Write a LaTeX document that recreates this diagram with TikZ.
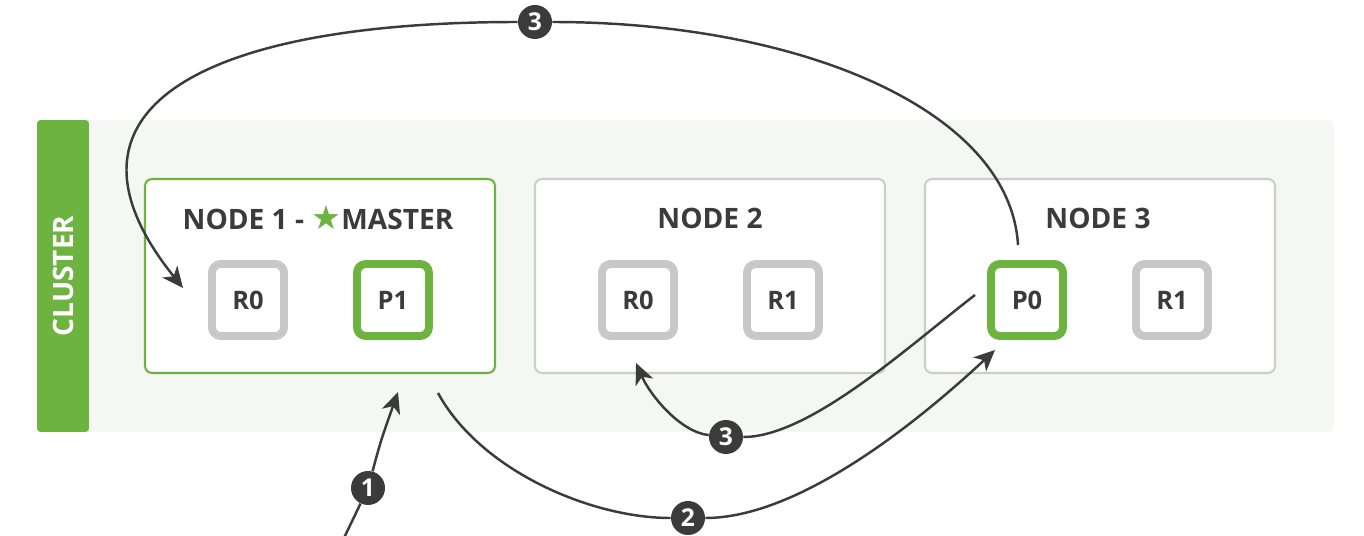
\documentclass[tikz,border=0pt]{standalone}
\usepackage{fontspec}
\setmainfont{Open Sans}
\newfontfamily\starfont{DejaVu Sans}
\usepackage{tikz}
\usetikzlibrary{arrows.meta,positioning}
\definecolor{elgreen}{HTML}{6DB33F}
\definecolor{shardgray}{HTML}{C8C8C8}
\definecolor{boxgray}{HTML}{CDCDCD}
\definecolor{inkgray}{HTML}{3B3B3B}
\definecolor{clusterbg}{HTML}{F5F7F2}

\tikzset{
  server/.style={draw=boxgray, line width=1.2pt, fill=white, rounded corners=4pt, minimum width=7.0cm, minimum height=3.88cm},
  master/.style={server, draw=elgreen},
  shard/.style={draw=shardgray, line width=4.5pt, fill=white, rounded corners=5pt, minimum size=1.44cm, inner sep=0pt, font=\bfseries\fontsize{14.5}{15}\selectfont, text=inkgray},
  primary/.style={shard, draw=elgreen},
  title/.style={font=\bfseries\fontsize{16}{17}\selectfont, text=inkgray},
  badge/.style={circle, fill=inkgray, text=white, minimum size=0.68cm, inner sep=0pt, font=\bfseries\fontsize{14}{14}\selectfont},
  flow/.style={draw=inkgray, line width=1.4pt}
}

\begin{document}
\begin{tikzpicture}[x=0.02cm,y=-0.02cm,>={Stealth[length=0.42cm,width=0.38cm,inset=0.12cm]},node distance=2.9cm]
  \useasboundingbox (0,0) rectangle (1364,536);
  % cluster panel
  \fill[clusterbg, rounded corners=3pt] (37,120) rectangle (1334,432);
  \node[rotate=90, fill=elgreen, text=white, rounded corners=2pt, minimum width=6.24cm, minimum height=1.04cm, font=\bfseries\fontsize{16}{17}\selectfont] (tab) at (63,276) {CLUSTER};

  \node[master] (node1) at (320,276) {};
  \node[server] (node2) at (710,276) {};
  \node[server] (node3) at (1100,276) {};
  \node[title] (t1) at (318,218) {NODE 1 - {\starfont\fontsize{19}{17}\selectfont\color{elgreen}★}MASTER};
  \node[title] (t2) at (710,218) {NODE 2};
  \node[title] (t3) at (1098,218) {NODE 3};

  \node[shard] (n1r0) at (248,300) {R0};
  \node[primary] (n1p1) [right of=n1r0] {P1};
  \node[shard] (n2r0) at (638,300) {R0};
  \node[shard] (n2r1) [right of=n2r0] {R1};
  \node[primary] (n3p0) at (1027,300) {P0};
  \node[shard] (n3r1) [right of=n3p0] {R1};

  % steps
  \node[badge] (b1) at (368,488) {1};
  \node[badge] (b2) at (688,518) {2};
  \node[badge] (b3) at (726,437) {3};
  \node[badge] (b4) at (535,22) {3};

  \coordinate (c1s) at (343,540);
  \coordinate (c1e) at (398,392);
  \coordinate (c2s) at (438,393);
  \coordinate (c2e) at (995,350);
  \coordinate (c3s) at (975,295);
  \coordinate (c3e) at (636,363);
  \coordinate (c4s) at (1018,245);
  \coordinate (c4e) at (183,288);

  \draw[flow] (c1s) -- (b1);
  \draw[flow,->] (b1) .. controls (381,440) .. (c1e);
  \draw[flow] (c2s) .. controls (480,470) and (590,518) .. (b2);
  \draw[flow,->] (b2) .. controls (800,518) and (920,420) .. (c2e);
  \draw[flow] (c3s) .. controls (910,345) and (810,437) .. (b3);
  \draw[flow,->] (b3) .. controls (680,432) and (650,395) .. (c3e);
  \draw[flow] (c4s) .. controls (1010,110) and (800,22) .. (b4);
  \draw[flow,->] (b4) .. controls (200,22) and (40,110) .. (c4e);
\end{tikzpicture}
\end{document}
